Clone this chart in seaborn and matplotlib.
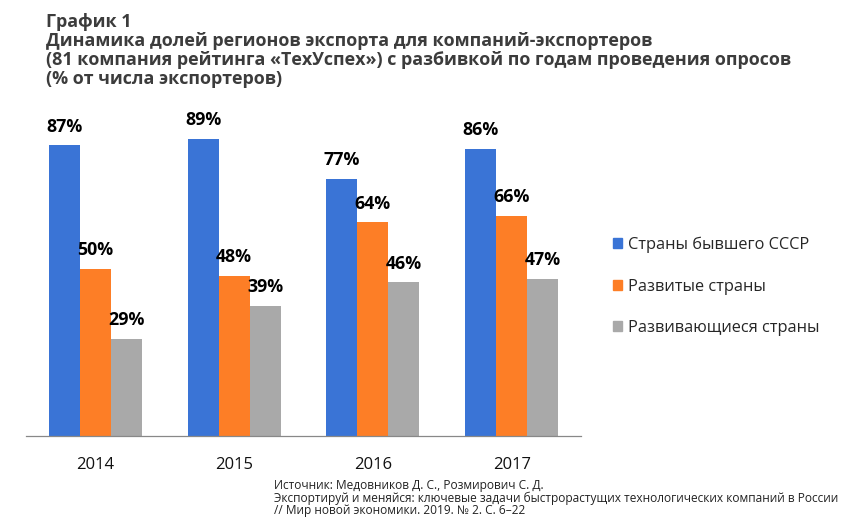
import matplotlib
matplotlib.use('Agg')
import matplotlib.pyplot as plt
import seaborn as sns
import pandas as pd

# Данные графика
years = ['2014', '2015', '2016', '2017']
series = ['Страны бывшего СССР', 'Развитые страны', 'Развивающиеся страны']
sssr = [87, 89, 77, 86]
developed = [50, 48, 64, 66]
developing = [29, 39, 46, 47]
colors = ['#3a74d6', '#fd7e26', '#a9a9a9']

df = pd.DataFrame({
    'Год': years * 3,
    'Регион': [series[0]] * 4 + [series[1]] * 4 + [series[2]] * 4,
    'Доля': sssr + developed + developing,
})

sns.set_style('white')
plt.rcParams['font.family'] = ['Open Sans', 'DejaVu Sans']

fig = plt.figure(figsize=(8.5, 5.23), dpi=100)
ax = fig.add_axes([26 / 850, 1 - 436 / 523, (581 - 26) / 850, (436 - 102) / 523])

sns.barplot(data=df, x='Год', y='Доля', hue='Регион', hue_order=series,
            palette=colors, width=0.67, saturation=1, linewidth=0,
            edgecolor='none', ax=ax, legend=False)

# подписи значений
for cont in ax.containers:
    ax.bar_label(cont, labels=[f'{v:.0f}%' for v in cont.datavalues],
                 padding=7, fontsize=12.8, fontweight='bold', color='black')

ax.set_ylim(0, 100)
ax.set_xlim(-0.5, 3.5)
ax.set_yticks([])
ax.set_xlabel('')
ax.set_ylabel('')
for s in ['top', 'right', 'left']:
    ax.spines[s].set_visible(False)
ax.spines['bottom'].set_color('#888888')
ax.spines['bottom'].set_linewidth(0.9)
ax.set_xticks([-0.5, 0.5, 1.5, 2.5, 3.5], minor=True)
ax.tick_params(axis='x', which='minor', length=4.5, color='#888888', width=0.9, direction='out')
ax.tick_params(axis='x', which='major', length=0, pad=15, labelsize=12, labelcolor='#111111')

# легенда
handles = [plt.Rectangle((0, 0), 1, 1, color=c) for c in colors]
fig.legend(handles, series, loc='upper left', bbox_to_anchor=(598 / 850, 1 - 222 / 523),
           frameon=False, fontsize=11.8, handlelength=0.55, handleheight=0.55,
           handletextpad=0.35, labelspacing=1.55)

# заголовок
fig.text(46 / 850, 1 - 13 / 523,
         'График 1\nДинамика долей регионов экспорта для компаний-экспортеров\n'
         '(81 компания рейтинга «ТехУспех») с разбивкой по годам проведения опросов\n'
         '(% от числа экспортеров)',
         ha='left', va='top', fontsize=12.9, fontweight='bold', color='#3c3c3c',
         linespacing=1.08)

# источник
fig.text(274 / 850, 1 - 479 / 523,
         'Источник: Медовников Д. С., Розмирович С. Д.\n'
         'Экспортируй и меняйся: ключевые задачи быстрорастущих технологических компаний в России\n'
         '// Мир новой экономики. 2019. № 2. С. 6–22',
         ha='left', va='top', fontsize=8.6, color='#222222', linespacing=0.95)

fig.savefig('out.png', dpi=100)
